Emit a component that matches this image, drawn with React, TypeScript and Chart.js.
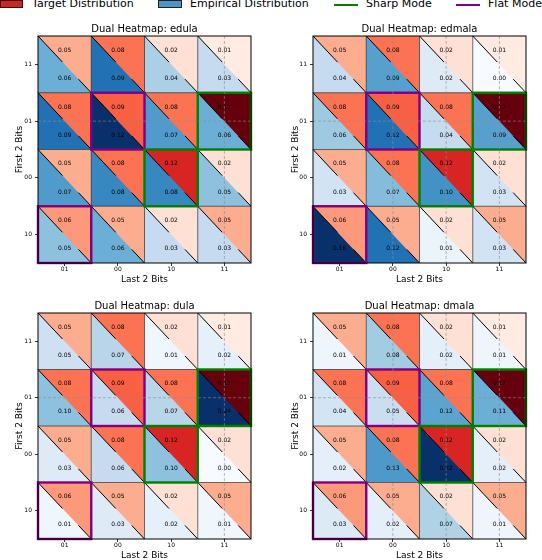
import React, { useEffect, useRef } from "react";
import { Chart, registerables } from "chart.js";

Chart.register(...registerables);

// ---------------- data ----------------
const xLabels = ["01", "00", "10", "11"];
const yLabels = ["11", "01", "00", "10"];
const panelNames = ["edula", "edmala", "dula", "dmala"];

// rows top -> bottom (yLabels), columns left -> right (xLabels)
const targetDist = [
  [0.05, 0.08, 0.02, 0.01],
  [0.08, 0.09, 0.08, 0.17],
  [0.05, 0.08, 0.12, 0.02],
  [0.06, 0.05, 0.02, 0.05],
];
const empEdula = [
  [0.06, 0.09, 0.04, 0.03],
  [0.09, 0.12, 0.07, 0.06],
  [0.07, 0.08, 0.08, 0.05],
  [0.05, 0.06, 0.03, 0.03],
];
const empEdmala = [
  [0.04, 0.09, 0.02, 0.0],
  [0.06, 0.12, 0.04, 0.09],
  [0.03, 0.07, 0.1, 0.03],
  [0.16, 0.12, 0.01, 0.03],
];
const empDula = [
  [0.05, 0.07, 0.01, 0.02],
  [0.1, 0.06, 0.07, 0.24],
  [0.03, 0.06, 0.1, 0.0],
  [0.01, 0.03, 0.02, 0.01],
];
const empDmala = [
  [0.01, 0.08, 0.02, 0.01],
  [0.04, 0.05, 0.12, 0.11],
  [0.02, 0.13, 0.22, 0.02],
  [0.03, 0.02, 0.07, 0.01],
];
const empiricalSets = [empEdula, empEdmala, empDula, empDmala];

// [row, col]
const sharpModes = [
  [1, 3],
  [2, 2],
];
const flatModes = [
  [1, 1],
  [3, 0],
];

const legendLabels = ["Target Distribution", "Empirical Distribution", "Sharp Mode", "Flat Mode"];

// ---------------- styles ----------------
const FONT = '"DejaVu Sans", sans-serif';
const REDS = ["#fff5f0", "#fee0d2", "#fcbba1", "#fc9272", "#fb6a4a", "#ef3b2c", "#cb181d", "#a50f15", "#67000d"];
const BLUES = ["#f7fbff", "#deebf7", "#c6dbef", "#9ecae1", "#6baed6", "#4292c6", "#2171b5", "#08519c", "#08306b"];
const SHARP = "#008000";
const FLAT = "#800080";

const gridColsByPanel = [[3], [1, 2, 3], [3], [1, 2, 3]];
const gridRowsByPanel = [[1], [1], [1], [1]];

function hexToRgb(h: string) {
  const n = parseInt(h.slice(1), 16);
  return [(n >> 16) & 255, (n >> 8) & 255, n & 255];
}
function cmap(stops: string[], t: number) {
  const tt = Math.max(0, Math.min(1, t));
  const p = tt * (stops.length - 1);
  const i = Math.min(stops.length - 2, Math.floor(p));
  const f = p - i;
  const a = hexToRgb(stops[i]);
  const b = hexToRgb(stops[i + 1]);
  const c = a.map((v, k) => Math.round(v + (b[k] - v) * f));
  return `rgb(${c[0]},${c[1]},${c[2]})`;
}
function maxOf(m: number[][]) {
  return Math.max(...m.map((r) => Math.max(...r)));
}

type PanelLayout = {
  left: number;
  top: number;
  width: number;
  height: number;
  padT: number;
  padR: number;
  yWidth: number;
  xHeight: number;
  yTitlePad: number;
};

const layouts: PanelLayout[] = [
  { left: 0, top: 14, width: 271, height: 279, padT: 22, padR: 20, yWidth: 38, xHeight: 30, yTitlePad: 14.6 },
  { left: 271, top: 14, width: 271, height: 279, padT: 22, padR: 16, yWidth: 42, xHeight: 30, yTitlePad: 19.6 },
  { left: 0, top: 290, width: 271, height: 279, padT: 23, padR: 20, yWidth: 38, xHeight: 30, yTitlePad: 14.6 },
  { left: 271, top: 290, width: 271, height: 279, padT: 23, padR: 16, yWidth: 42, xHeight: 30, yTitlePad: 19.6 },
];

function makeHeatmapPlugin(panel: number) {
  const emp = empiricalSets[panel];
  const tMax = maxOf(targetDist);
  const eMax = maxOf(emp);
  return {
    id: "dualHeatmap" + panel,
    beforeDatasetsDraw(chart: any) {
      const { ctx, scales } = chart;
      const xs = scales.x;
      const ys = scales.y;
      ctx.save();
      for (let r = 0; r < yLabels.length; r++) {
        for (let c = 0; c < xLabels.length; c++) {
          const x0 = xs.getPixelForValue(c - 0.5);
          const x1 = xs.getPixelForValue(c + 0.5);
          const y0 = ys.getPixelForValue(r - 0.5);
          const y1 = ys.getPixelForValue(r + 0.5);
          // empirical: lower-left triangle (fill full cell first)
          ctx.fillStyle = cmap(BLUES, emp[r][c] / eMax);
          ctx.fillRect(x0, y0, x1 - x0, y1 - y0);
          // target: upper-right triangle
          ctx.beginPath();
          ctx.moveTo(x0, y0);
          ctx.lineTo(x1, y0);
          ctx.lineTo(x1, y1);
          ctx.closePath();
          ctx.fillStyle = cmap(REDS, targetDist[r][c] / tMax);
          ctx.fill();
          // dashed diagonal
          const L = Math.hypot(x1 - x0, y1 - y0);
          ctx.beginPath();
          ctx.setLineDash([0.46 * L, 0.3 * L]);
          ctx.moveTo(x0, y0);
          ctx.lineTo(x1, y1);
          ctx.strokeStyle = "#000";
          ctx.lineWidth = 1;
          ctx.stroke();
          ctx.setLineDash([]);
        }
      }
      // cell borders
      ctx.strokeStyle = "rgba(30,30,30,0.8)";
      ctx.lineWidth = 0.8;
      for (let c = 1; c < xLabels.length; c++) {
        const px = xs.getPixelForValue(c - 0.5);
        ctx.beginPath();
        ctx.moveTo(px, ys.getPixelForValue(-0.5));
        ctx.lineTo(px, ys.getPixelForValue(yLabels.length - 0.5));
        ctx.stroke();
      }
      for (let r = 1; r < yLabels.length; r++) {
        const py = ys.getPixelForValue(r - 0.5);
        ctx.beginPath();
        ctx.moveTo(xs.getPixelForValue(-0.5), py);
        ctx.lineTo(xs.getPixelForValue(xLabels.length - 0.5), py);
        ctx.stroke();
      }
      // value labels
      ctx.fillStyle = "#000";
      ctx.font = `6px ${FONT}`;
      ctx.textAlign = "center";
      ctx.textBaseline = "middle";
      for (let r = 0; r < yLabels.length; r++) {
        for (let c = 0; c < xLabels.length; c++) {
          const x0 = xs.getPixelForValue(c - 0.5);
          const x1 = xs.getPixelForValue(c + 0.5);
          const y0 = ys.getPixelForValue(r - 0.5);
          const y1 = ys.getPixelForValue(r + 0.5);
          const cx = (x0 + x1) / 2;
          ctx.fillText(targetDist[r][c].toFixed(2), cx, y0 + (y1 - y0) * 0.25);
          ctx.fillText(emp[r][c].toFixed(2), cx, y0 + (y1 - y0) * 0.75);
        }
      }
      // mode boxes
      const box = (modes: number[][], color: string) => {
        ctx.strokeStyle = color;
        ctx.lineWidth = 2.4;
        for (const [r, c] of modes) {
          const x0 = xs.getPixelForValue(c - 0.5);
          const x1 = xs.getPixelForValue(c + 0.5);
          const y0 = ys.getPixelForValue(r - 0.5);
          const y1 = ys.getPixelForValue(r + 0.5);
          ctx.strokeRect(x0, y0, x1 - x0, y1 - y0);
        }
      };
      box(flatModes, FLAT);
      box(sharpModes, SHARP);
      ctx.restore();
    },
    afterDraw(chart: any) {
      const { ctx, chartArea, scales } = chart;
      const xs = scales.x;
      const ys = scales.y;
      ctx.save();
      // dashed grid
      ctx.strokeStyle = "rgba(140,140,140,0.75)";
      ctx.lineWidth = 0.8;
      ctx.setLineDash([3, 2]);
      for (const c of gridColsByPanel[panel]) {
        const px = xs.getPixelForValue(c);
        ctx.beginPath();
        ctx.moveTo(px, chartArea.top);
        ctx.lineTo(px, chartArea.bottom);
        ctx.stroke();
      }
      for (const r of gridRowsByPanel[panel]) {
        const py = ys.getPixelForValue(r);
        ctx.beginPath();
        ctx.moveTo(chartArea.left, py);
        ctx.lineTo(chartArea.right, py);
        ctx.stroke();
      }
      ctx.setLineDash([]);
      // frame
      ctx.strokeStyle = "#000";
      ctx.lineWidth = 1;
      ctx.strokeRect(chartArea.left, chartArea.top, chartArea.right - chartArea.left, chartArea.bottom - chartArea.top);
      // title
      ctx.fillStyle = "#000";
      ctx.font = `10px ${FONT}`;
      ctx.textAlign = "center";
      ctx.textBaseline = "middle";
      ctx.fillText("Dual Heatmap: " + panelNames[panel], (chartArea.left + chartArea.right) / 2, chartArea.top - 7);
      ctx.restore();
    },
  };
}

function Panel({ panel }: { panel: number }) {
  const ref = useRef<HTMLCanvasElement>(null);
  const L = layouts[panel];
  useEffect(() => {
    if (!ref.current) return;
    const tickFont = { family: FONT, size: 6, lineHeight: 1 };
    const titleFont = { family: FONT, size: 9, lineHeight: 1.2 };
    const chart = new Chart(ref.current, {
      type: "scatter",
      data: { datasets: [] },
      options: {
        animation: false,
        responsive: false,
        maintainAspectRatio: false,
        events: [],
        layout: { padding: { top: L.padT, right: L.padR, bottom: 0, left: 0 } },
        plugins: {
          legend: { display: false },
          tooltip: { enabled: false },
          title: { display: false },
        },
        scales: {
          x: {
            type: "linear",
            position: "bottom",
            min: -0.5,
            max: 3.5,
            afterBuildTicks: (axis: any) => {
              axis.ticks = xLabels.map((_, i) => ({ value: i }));
            },
            afterFit: (axis: any) => {
              axis.height = L.xHeight;
              axis.paddingLeft = 0;
              axis.paddingRight = 0;
            },
            ticks: {
              autoSkip: false,
              maxRotation: 0,
              minRotation: 0,
              padding: 0,
              color: "#000",
              font: tickFont,
              callback: (v: any) => xLabels[Math.round(Number(v))] ?? "",
            },
            grid: { drawOnChartArea: false, drawTicks: true, tickLength: 3, color: "#000", lineWidth: 0.8 },
            border: { display: false },
            title: {
              display: true,
              text: "Last 2 Bits",
              color: "#000",
              font: titleFont,
              padding: { top: 0, bottom: 7.6 },
            },
          },
          y: {
            type: "linear",
            position: "left",
            min: -0.5,
            max: 3.5,
            reverse: true,
            afterBuildTicks: (axis: any) => {
              axis.ticks = yLabels.map((_, i) => ({ value: i }));
            },
            afterFit: (axis: any) => {
              axis.width = L.yWidth;
              axis.paddingTop = 0;
              axis.paddingBottom = 0;
            },
            ticks: {
              autoSkip: false,
              padding: 3,
              color: "#000",
              font: tickFont,
              callback: (v: any) => yLabels[Math.round(Number(v))] ?? "",
            },
            grid: { drawOnChartArea: false, drawTicks: true, tickLength: 3, color: "#000", lineWidth: 0.8 },
            border: { display: false },
            title: {
              display: true,
              text: "First 2 Bits",
              color: "#000",
              font: titleFont,
              padding: { top: L.yTitlePad, bottom: 0 },
            },
          },
        },
      } as any,
      plugins: [makeHeatmapPlugin(panel)],
    });
    return () => chart.destroy();
  }, [panel]);
  return (
    <canvas
      ref={ref}
      width={L.width}
      height={L.height}
      style={{ position: "absolute", left: L.left, top: L.top, width: L.width, height: L.height }}
    />
  );
}

function Legend() {
  const textStyle: React.CSSProperties = {
    position: "absolute",
    top: -2,
    fontFamily: FONT,
    fontSize: 11,
    lineHeight: "11px",
    color: "#000",
    whiteSpace: "nowrap",
  };
  return (
    <>
      <div style={{ position: "absolute", left: 0, top: 0, width: 23, height: 8, background: "#c52a2b", border: "0.8px solid #4a0a0a", boxSizing: "border-box" }} />
      <div style={{ ...textStyle, left: 32 }}>{legendLabels[0]}</div>
      <div style={{ position: "absolute", left: 158, top: 0, width: 24, height: 8, background: "#4f93c8", border: "0.8px solid #222", boxSizing: "border-box" }} />
      <div style={{ ...textStyle, left: 190 }}>{legendLabels[1]}</div>
      <div style={{ position: "absolute", left: 334, top: 4, width: 24, height: 2, background: SHARP }} />
      <div style={{ ...textStyle, left: 366 }}>{legendLabels[2]}</div>
      <div style={{ position: "absolute", left: 456, top: 4, width: 24, height: 2, background: FLAT }} />
      <div style={{ ...textStyle, left: 488 }}>{legendLabels[3]}</div>
    </>
  );
}

export default function App() {
  return (
    <div
      style={{
        position: "fixed",
        left: 0,
        top: 0,
        width: 542,
        height: 560,
        overflow: "hidden",
        background: "#fff",
      }}
    >
      <Legend />
      {[0, 1, 2, 3].map((p) => (
        <Panel key={p} panel={p} />
      ))}
    </div>
  );
}
